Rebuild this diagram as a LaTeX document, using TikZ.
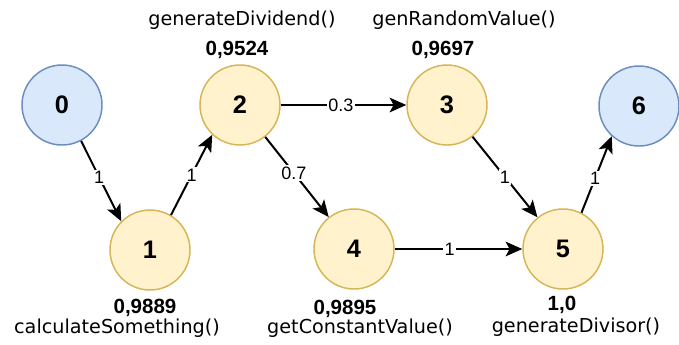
\documentclass[tikz,border=0pt]{standalone}
\usepackage{fontspec}
\setmainfont{Liberation Sans}
\newfontfamily\fnfam{DejaVu Sans}
\usetikzlibrary{arrows.meta}
\definecolor{endcol}{HTML}{DAE8FC}
\definecolor{enddraw}{HTML}{6C8EBF}
\definecolor{taskcol}{HTML}{FFF2CC}
\definecolor{taskdraw}{HTML}{D6B656}

\begin{document}
\begin{tikzpicture}[
  x=0.75pt, y=-0.75pt,
  >={Stealth[length=12.5pt, width=11pt, inset=3pt]},
  endpt/.style  = {circle, draw=enddraw, fill=endcol, line width=1.1pt,
                   minimum size=60pt, inner sep=0pt,
                   font=\fontsize{19}{21}\selectfont\bfseries},   % start / end
  task/.style   = {endpt, draw=taskdraw, fill=taskcol},           % method nodes
  prob/.style   = {font=\fontsize{15.4}{17}\selectfont\bfseries, inner sep=0pt},
  fname/.style  = {font=\fnfam\fontsize{14.4}{16}\selectfont, inner sep=0pt},
  flow/.style   = {->, line width=1.5pt},
  elbl/.style   = {font=\fontsize{13.5}{15}\selectfont, fill=white, inner sep=1pt},
]
\useasboundingbox (0,0) rectangle (679,344);

% ---------- nodes ----------
\node[endpt] (n0) at (62,105)  {0};
\node[task]  (n1) at (150,250) {1};
\node[task]  (n2) at (240,105) {2};
\node[task]  (n3) at (447,105) {3};
\node[task]  (n4) at (354,249) {4};
\node[task]  (n5) at (563,249) {5};
\node[endpt] (n6) at (639,106) {6};

% ---------- probabilities + method names ----------
\node[fname] (f2) at (242,20)  {generateDividend()};
\node[prob]  (p2) at (237,50)  {0,9524};
\node[fname] (f3) at (464,20)  {genRandomValue()};
\node[prob]  (p3) at (443,50)  {0,9697};
\node[prob]  (p1) at (145,308) {0,9889};
\node[fname] (f1) at (117,328) {calculateSomething()};
\node[prob]  (p4) at (345,309) {0,9895};
\node[fname] (f4) at (360,328) {getConstantValue()};
\node[prob]  (p5) at (562,305) {1,0};
\node[fname] (f5) at (576,327) {generateDivisor()};

% ---------- transitions ----------
\draw[flow] (n0.-62) -- (n1.135) node[elbl, pos=0.45] {1};
\draw[flow] (n1.59)  -- (n2.227) node[elbl, pos=0.5]  {1};
\draw[flow] (n2)     -- (n3)     node[elbl, pos=0.48] {0.3};
\draw[flow] (n2)     -- (n4)     node[elbl, pos=0.45] {0.7};
\draw[flow] (n4)     -- (n5)     node[elbl, pos=0.43] {1};
\draw[flow] (n3)     -- (n5)     node[elbl, pos=0.5]  {1};
\draw[flow] (n5.63)  -- (n6.228) node[elbl, pos=0.45] {1};

\end{tikzpicture}
\end{document}
